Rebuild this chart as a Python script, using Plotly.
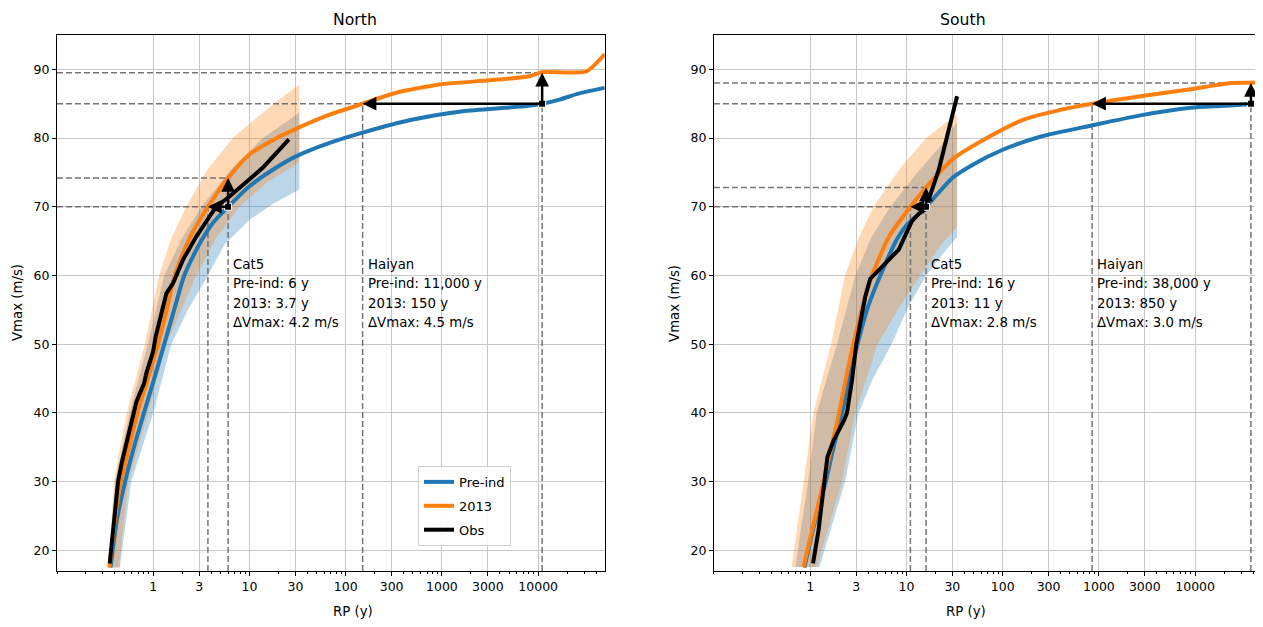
import numpy as np
import plotly.graph_objects as go

# ---------------- data ----------------
tick_vals = [1, 3, 10, 30, 100, 300, 1000, 3000, 10000]
tick_text = ["1", "3", "10", "30", "100", "300", "1000", "3000", "10000"]
y_tick_vals = [20, 30, 40, 50, 60, 70, 80, 90]

# North
north_pre_rp = [0.36, 0.42, 0.51, 0.63, 0.80, 1.0, 1.3, 1.65, 2.1, 3.0, 4.2, 6.0, 10, 18, 30, 68, 150, 500,
                1650, 4500, 7500, 11000, 16700, 26700, 49000]
north_pre_v = [17.5, 24.5, 30, 35, 40, 44.5, 50, 55, 60, 64.5, 67.7, 70, 73.0, 75.5, 77.3, 79.3, 80.8, 82.7,
               83.9, 84.4, 84.65, 85.0, 85.6, 86.5, 87.3]
north_2013_rp = [0.35, 0.40, 0.46, 0.56, 0.686, 0.88, 1.12, 1.38, 1.67, 2.4, 3.7, 6.0, 10, 18, 30, 68, 150,
                 335, 944, 3120, 8100, 11000, 31600, 49000]
north_2013_v = [17.5, 24.5, 30, 35, 40, 45, 50, 55, 60, 65.5, 70, 74.2, 77.6, 79.8, 81.3, 83.4, 85.0,
                86.6, 87.8, 88.4, 89.0, 89.6, 89.7, 92.2]
north_obs_rp = [0.353, 0.383, 0.405, 0.431, 0.468, 0.498, 0.526, 0.561, 0.603, 0.632, 0.668, 0.724, 0.803,
                0.849, 0.92, 0.995, 1.06, 1.2, 1.37, 1.61, 2.04, 2.81, 4.46, 6.2, 10, 13.8, 25.7]
north_obs_v = [18.1, 23.4, 26.8, 30.0, 32.6, 34.1, 36.0, 37.5, 39.2, 40.2, 41.6, 42.8, 44.3,
               45.8, 47.2, 48.9, 51.1, 54.0, 57.4, 58.9, 62.3, 65.7, 69.9, 71.5, 74.0, 75.7, 79.8]

# North uncertainty bands (upper edge left->right, lower edge right->left)
north_pre_band_up_rp = [0.35, 0.40, 0.57, 0.88, 1.3, 2.0, 3.17, 6.5, 13.8, 33]
north_pre_band_up_v = [17.5, 30, 40, 50, 60, 65.5, 70, 75.5, 80, 83.7]
north_pre_band_lo_rp = [33, 18, 10, 5.5, 3.7, 2.3, 1.54, 1.0, 0.59, 0.45]
north_pre_band_lo_v = [72.5, 70.5, 68.1, 64.5, 60, 55, 50, 40, 30, 17.5]
north_2013_band_up_rp = [0.34, 0.36, 0.39, 0.53, 0.82, 1.15, 1.55, 2.2, 3.7, 6.7, 12, 19, 33]
north_2013_band_up_v = [17.5, 22, 30, 40, 50, 60, 65.5, 70, 75.5, 80, 83, 85.3, 87.8]
north_2013_band_lo_rp = [33, 15, 7.9, 4.5, 2.8, 1.37, 0.88, 0.55, 0.44]
north_2013_band_lo_v = [76.5, 73.5, 70, 65.5, 60, 50, 40, 30, 17.5]

# South
south_pre_rp = [0.87, 1.12, 1.45, 1.75, 2.14, 2.55, 3.1, 4.0, 5.35, 8.0, 10, 16, 30, 50, 100, 246, 820,
                2700, 9000, 20000, 38000, 50000]
south_pre_v = [17.5, 24.2, 30, 35, 40, 45, 50, 55.5, 60, 65.3, 67.3, 70, 74.2, 76.2, 78.3, 80.2, 81.8,
               83.3, 84.4, 84.7, 85.0, 85.6]
south_2013_rp = [0.85, 1.1, 1.38, 1.66, 2.0, 2.35, 2.8, 3.5, 4.4, 6.5, 11, 16, 30, 74.7, 166, 369, 850,
                 2700, 9000, 23500, 38000, 50000]
south_2013_v = [17.5, 24.2, 30, 35, 40, 45, 50, 55.5, 60, 65.5, 70, 72.8, 76.9, 80.3, 82.7, 84.0, 85.0,
                86.1, 87.1, 88.0, 88.05, 88.15]
south_obs_rp = [1.07, 1.22, 1.32, 1.40, 1.51, 1.75, 2.05, 2.26, 2.41, 2.72, 3.01, 3.2, 3.5, 3.73, 4.2,
                5.8, 8.3, 11.4, 13.5, 15.7, 19.2, 21.7, 33.6]
south_obs_v = [18.1, 22.9, 26.9, 30.0, 33.6, 36.0, 37.8, 39.0, 40.0, 44.8, 50.0, 52.1, 55.0, 56.9, 59.5,
               61.6, 63.75, 67.9, 69.0, 69.6, 73.0, 75.4, 86.1]

south_pre_band_up_rp = [0.70, 0.95, 1.17, 1.9, 2.94, 4.3, 6.8, 13, 22.5, 33.6]
south_pre_band_up_v = [17.6, 30, 40, 50, 60, 65.5, 70, 75, 78.8, 82.3]
south_pre_band_lo_rp = [33.6, 24, 16, 10.5, 7, 4.5, 3.18, 2.3, 1.25]
south_pre_band_lo_v = [65.6, 63.2, 60, 55.5, 50, 45, 40, 30, 17.6]
south_2013_band_up_rp = [0.64, 0.85, 1.08, 1.65, 2.3, 3.2, 4.55, 8.5, 16, 33.6]
south_2013_band_up_v = [17.6, 30, 40, 50, 60, 65.5, 70, 75.5, 80, 83.5]
south_2013_band_lo_rp = [33.6, 22, 14, 8.5, 5, 3.8, 2.94, 2.14, 1.17]
south_2013_band_lo_v = [67.1, 64.2, 60, 55.5, 50, 45, 40, 30, 17.6]

# Events (Cat5, Haiyan)
north_event_v = [70, 85]
north_event_rp_pre = [6, 11000]
north_event_rp_2013 = [3.7, 150]
north_event_dv = [4.2, 4.5]
north_event_text = [["Cat5", "Pre-ind: 6 y", "2013: 3.7 y", "ΔVmax: 4.2 m/s"],
                    ["Haiyan", "Pre-ind: 11,000 y", "2013: 150 y", "ΔVmax: 4.5 m/s"]]
north_text_anchor_rp = [6, 150]

south_event_v = [70, 85]
south_event_rp_pre = [16, 38000]
south_event_rp_2013 = [11, 850]
south_event_dv = [2.8, 3.0]
south_event_text = [["Cat5", "Pre-ind: 16 y", "2013: 11 y", "ΔVmax: 2.8 m/s"],
                    ["Haiyan", "Pre-ind: 38,000 y", "2013: 850 y", "ΔVmax: 3.0 m/s"]]
south_text_anchor_rp = [16, 850]

series_names = ["Pre-ind", "2013", "Obs"]

# ---------------- style ----------------
X_MIN = 0.1
Y_MIN, Y_MAX = 17, 95
X_RANGE = [-1.0, 4.695]
BLUE = "#1f77b4"
ORANGE = "#ff7f0e"
BLUE_FILL = "rgba(31,119,180,0.30)"
ORANGE_FILL = "rgba(255,127,14,0.30)"
FONT = "DejaVu Sans"
TEXT_LINE_Y = [61.55, 58.8, 56.0, 53.1]

fig = go.Figure()


def add_panel(xa, ya, pre_rp, pre_v, y13_rp, y13_v, obs_rp, obs_v,
              pb_up_rp, pb_up_v, pb_lo_rp, pb_lo_v, ob_up_rp, ob_up_v, ob_lo_rp, ob_lo_v,
              ev_v, ev_pre, ev_13, ev_dv, ev_text, anchor_rp, legend):
    # bands
    fig.add_trace(go.Scatter(x=pb_up_rp + pb_lo_rp, y=pb_up_v + pb_lo_v, fill="toself",
                             fillcolor=BLUE_FILL, line=dict(width=0), mode="lines",
                             hoverinfo="skip", showlegend=False, xaxis=xa, yaxis=ya))
    fig.add_trace(go.Scatter(x=ob_up_rp + ob_lo_rp, y=ob_up_v + ob_lo_v, fill="toself",
                             fillcolor=ORANGE_FILL, line=dict(width=0), mode="lines",
                             hoverinfo="skip", showlegend=False, xaxis=xa, yaxis=ya))
    # dashed guide lines
    dx, dy = [], []
    for v, rp_p, rp_13, dv in zip(ev_v, ev_pre, ev_13, ev_dv):
        dx += [X_MIN, rp_p, None, X_MIN, rp_p, None, rp_13, rp_13, None, rp_p, rp_p, None]
        dy += [v, v, None, v + dv, v + dv, None, Y_MIN, v, None, Y_MIN, v, None]
    fig.add_trace(go.Scatter(x=dx, y=dy, mode="lines",
                             line=dict(color="rgba(110,110,110,0.95)", width=1.5, dash="6px,3px"),
                             hoverinfo="skip", showlegend=False, xaxis=xa, yaxis=ya))
    # lines
    fig.add_trace(go.Scatter(x=pre_rp, y=pre_v, mode="lines", name=series_names[0],
                             line=dict(color=BLUE, width=4, shape="spline", smoothing=0.6),
                             showlegend=legend, legendgroup="a", xaxis=xa, yaxis=ya))
    fig.add_trace(go.Scatter(x=y13_rp, y=y13_v, mode="lines", name=series_names[1],
                             line=dict(color=ORANGE, width=4, shape="spline", smoothing=0.6),
                             showlegend=legend, legendgroup="b", xaxis=xa, yaxis=ya))
    fig.add_trace(go.Scatter(x=obs_rp, y=obs_v, mode="lines", name=series_names[2],
                             line=dict(color="black", width=4),
                             showlegend=legend, legendgroup="c", xaxis=xa, yaxis=ya))
    # markers at arrow origin
    fig.add_trace(go.Scatter(x=ev_pre, y=ev_v, mode="markers",
                             marker=dict(symbol="square", size=7, color="black",
                                         line=dict(color="white", width=1)),
                             hoverinfo="skip", showlegend=False, xaxis=xa, yaxis=ya))
    for v, rp_p, rp_13, dv in zip(ev_v, ev_pre, ev_13, ev_dv):
        fig.add_annotation(x=np.log10(rp_13), y=v, ax=np.log10(rp_p), ay=v,
                           xref=xa, yref=ya, axref=xa, ayref=ya, text="",
                           showarrow=True, arrowhead=2, arrowsize=1.1,
                           arrowwidth=2.5, arrowcolor="black", standoff=0, startstandoff=0)
        fig.add_annotation(x=np.log10(rp_p), y=v + dv, ax=np.log10(rp_p), ay=v,
                           xref=xa, yref=ya, axref=xa, ayref=ya, text="",
                           showarrow=True, arrowhead=2, arrowsize=1.1,
                           arrowwidth=2.5, arrowcolor="black", standoff=0, startstandoff=0)
    for lines, arp in zip(ev_text, anchor_rp):
        for txt, ly in zip(lines, TEXT_LINE_Y):
            fig.add_annotation(x=np.log10(arp), y=ly, xref=xa, yref=ya, text=txt,
                               showarrow=False, xanchor="left", yanchor="middle", xshift=3,
                               font=dict(family=FONT, size=13.3, color="black"))


add_panel("x", "y", north_pre_rp, north_pre_v, north_2013_rp, north_2013_v, north_obs_rp, north_obs_v,
          north_pre_band_up_rp, north_pre_band_up_v, north_pre_band_lo_rp, north_pre_band_lo_v,
          north_2013_band_up_rp, north_2013_band_up_v, north_2013_band_lo_rp, north_2013_band_lo_v,
          north_event_v, north_event_rp_pre, north_event_rp_2013, north_event_dv, north_event_text,
          north_text_anchor_rp, True)
add_panel("x2", "y2", south_pre_rp, south_pre_v, south_2013_rp, south_2013_v, south_obs_rp, south_obs_v,
          south_pre_band_up_rp, south_pre_band_up_v, south_pre_band_lo_rp, south_pre_band_lo_v,
          south_2013_band_up_rp, south_2013_band_up_v, south_2013_band_lo_rp, south_2013_band_lo_v,
          south_event_v, south_event_rp_pre, south_event_rp_2013, south_event_dv, south_event_text,
          south_text_anchor_rp, False)

minor_vals = [k * 10.0 ** n for n in range(-1, 5) for k in range(1, 10)
              if k * 10.0 ** n not in tick_vals and k * 10.0 ** n < 10 ** X_RANGE[1]]

xaxis_style = dict(type="log", range=X_RANGE, tickmode="array", tickvals=tick_vals, ticktext=tick_text,
                   ticks="outside", ticklen=4, tickwidth=1, tickcolor="black",
                   showline=True, linecolor="black", linewidth=1, mirror=True,
                   showgrid=True, gridcolor="#c8c8c8", gridwidth=1, zeroline=False,
                   tickfont=dict(family=FONT, size=12.5, color="black"),
                   minor=dict(tickmode="array", tickvals=minor_vals, ticks="outside", ticklen=2,
                              tickwidth=0.8, tickcolor="black", showgrid=False))
yaxis_style = dict(range=[Y_MIN, Y_MAX], tickmode="array", tickvals=y_tick_vals,
                   ticks="outside", ticklen=4, tickwidth=1, tickcolor="black",
                   showline=True, linecolor="black", linewidth=1, mirror=True,
                   showgrid=True, gridcolor="#c8c8c8", gridwidth=1, zeroline=False,
                   tickfont=dict(family=FONT, size=12.5, color="black"))

L_DOM = [0.0, 0.4548]
R_DOM = [0.5452, 1.0]
# page body has an 8px default margin, so the figure is drawn 8px smaller and offset
fig.update_layout(
    width=1255, height=619,
    margin=dict(l=49, r=1, t=27, b=56),
    paper_bgcolor="white", plot_bgcolor="white",
    font=dict(family=FONT, color="black"),
    xaxis=dict(domain=L_DOM, anchor="y", **xaxis_style),
    yaxis=dict(domain=[0, 1], anchor="x", **yaxis_style),
    xaxis2=dict(domain=R_DOM, anchor="y2", **xaxis_style),
    yaxis2=dict(domain=[0, 1], anchor="x2", **yaxis_style),
    showlegend=True,
    legend=dict(x=0.2996, y=0.196, xanchor="left", yanchor="top", traceorder="grouped",
                tracegroupgap=4, bordercolor="#d0d0d0", borderwidth=1,
                bgcolor="rgba(255,255,255,0.85)", font=dict(family=FONT, size=13, color="black")),
)

# titles and axis labels
for dom, title in ((L_DOM, "North"), (R_DOM, "South")):
    cx = (dom[0] + dom[1]) / 2
    fig.add_annotation(x=cx, y=1.0, xref="paper", yref="paper", text=title, showarrow=False,
                       yanchor="middle", yshift=16, font=dict(family=FONT, size=15.7, color="black"))
    fig.add_annotation(x=cx, y=0.0, xref="paper", yref="paper", text="RP (y)", showarrow=False,
                       yanchor="middle", yshift=-40, font=dict(family=FONT, size=13.3, color="black"))
    fig.add_annotation(x=dom[0], y=0.5, xref="paper", yref="paper", text="Vmax (m/s)", showarrow=False,
                       textangle=-90, xanchor="center", xshift=-40,
                       font=dict(family=FONT, size=13.3, color="black"))

fig.write_html("out.html")
